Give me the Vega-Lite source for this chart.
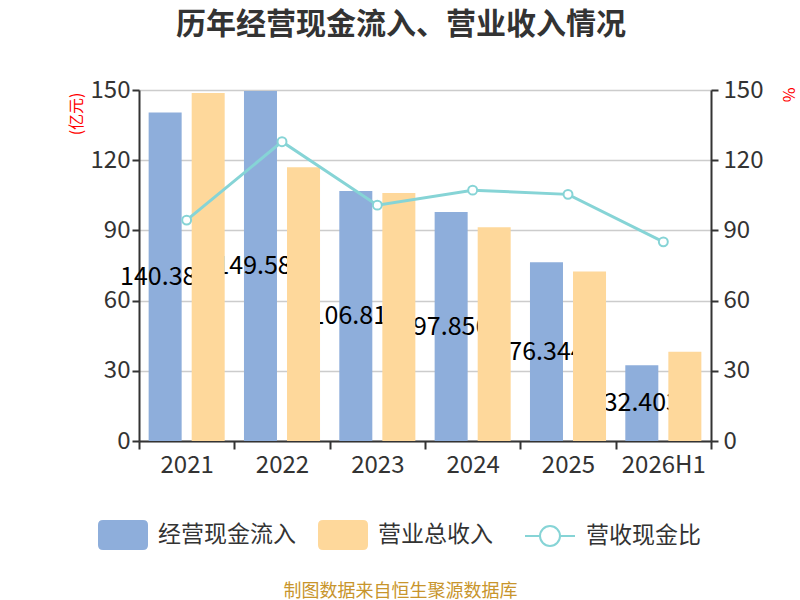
{
  "$schema": "https://vega.github.io/schema/vega-lite/v6.json",
  "description": "历年经营现金流入、营业收入情况",
  "width": 572,
  "height": 351,
  "autosize": {"type": "none"},
  "padding": {"left": 139, "top": 90, "right": 89, "bottom": 159},
  "background": "white",
  "title": {
    "text": "历年经营现金流入、营业收入情况",
    "fontSize": 30,
    "fontWeight": "bold",
    "color": "#333333",
    "font": "Noto Sans CJK SC",
    "anchor": "middle",
    "dx": -24,
    "offset": 38
  },
  "config": {
    "font": "Noto Sans CJK SC",
    "view": {"stroke": null},
    "axis": {
      "labelFont": "Noto Sans CJK SC",
      "labelFontSize": 24,
      "labelColor": "#333333",
      "domainColor": "#333333",
      "domainWidth": 2,
      "tickColor": "#333333",
      "tickWidth": 2,
      "tickSize": 7
    }
  },
  "data": {
    "values": [
      {"年份": "2021", "指标": "经营现金流入", "数值": 140.384},
      {"年份": "2022", "指标": "经营现金流入", "数值": 149.583},
      {"年份": "2023", "指标": "经营现金流入", "数值": 106.812},
      {"年份": "2024", "指标": "经营现金流入", "数值": 97.856},
      {"年份": "2025", "指标": "经营现金流入", "数值": 76.344},
      {"年份": "2026H1", "指标": "经营现金流入", "数值": 32.403},
      {"年份": "2021", "指标": "营业总收入", "数值": 148.7},
      {"年份": "2022", "指标": "营业总收入", "数值": 117.0},
      {"年份": "2023", "指标": "营业总收入", "数值": 106.0},
      {"年份": "2024", "指标": "营业总收入", "数值": 91.3},
      {"年份": "2025", "指标": "营业总收入", "数值": 72.4},
      {"年份": "2026H1", "指标": "营业总收入", "数值": 38.1},
      {"年份": "2021", "指标": "营收现金比", "数值": 94.4},
      {"年份": "2022", "指标": "营收现金比", "数值": 127.9},
      {"年份": "2023", "指标": "营收现金比", "数值": 100.8},
      {"年份": "2024", "指标": "营收现金比", "数值": 107.2},
      {"年份": "2025", "指标": "营收现金比", "数值": 105.4},
      {"年份": "2026H1", "指标": "营收现金比", "数值": 85.1}
    ]
  },
  "layer": [
    {
      "layer": [
        {
          "transform": [{"filter": "datum['指标'] == '经营现金流入'"}],
          "mark": {"type": "bar"},
          "encoding": {
            "x": {
              "field": "年份",
              "type": "nominal",
              "sort": null,
              "scale": {"paddingInner": 0, "paddingOuter": 0},
              "axis": {
                "title": "制图数据来自恒生聚源数据库",
                "titleColor": "#c8952c",
                "titleFontSize": 18,
                "titleFontWeight": "normal",
                "titleX": 261,
                "titleY": 150,
                "titleAlign": "center",
                "titleBaseline": "middle",
                "labelAngle": 0,
                "labelPadding": 4,
                "tickBand": "extent",
                "tickSize": 8
              }
            },
            "xOffset": {
              "field": "指标",
              "type": "nominal",
              "scale": {"domain": ["经营现金流入", "营业总收入"], "paddingInner": 0.233, "paddingOuter": 0.224}
            },
            "y": {
              "field": "数值",
              "type": "quantitative",
              "stack": null,
              "scale": {"domain": [0, 150], "nice": false},
              "axis": {
                "orient": "left",
                "values": [0, 30, 60, 90, 120, 150],
                "grid": true,
                "gridColor": "#cccccc",
                "gridWidth": 1.5,
                "labelPadding": 2,
                "title": "(亿元)",
                "titleColor": "#ff0000",
                "titleFontSize": 16,
                "titleFontWeight": "normal",
                "titleAngle": 270,
                "titleAlign": "right",
                "titleBaseline": "middle",
                "titleX": -63,
                "titleY": 2
              }
            },
            "color": {
              "field": "指标",
              "type": "nominal",
              "scale": {"domain": ["经营现金流入", "营业总收入"], "range": ["#8eaedb", "#fed89b"]},
              "legend": {
                "title": null,
                "orient": "none",
                "direction": "horizontal",
                "legendX": -41,
                "legendY": 420,
                "padding": 0,
                "symbolType": "M-0.8,-0.6H0.8Q1,-0.6 1,-0.4V0.4Q1,0.6 0.8,0.6H-0.8Q-1,0.6 -1,0.4V-0.4Q-1,-0.6 -0.8,-0.6Z",
                "symbolSize": 2500,
                "symbolStrokeWidth": 0,
                "symbolOpacity": 1,
                "labelFontSize": 23,
                "labelColor": "#333333",
                "labelOffset": 10,
                "columnPadding": 22,
                "labelLimit": 300
              }
            }
          }
        },
        {
          "transform": [{"filter": "datum['指标'] == '经营现金流入'"}],
          "mark": {"type": "text", "fontSize": 25, "color": "#000000", "baseline": "middle", "align": "center"},
          "encoding": {
            "x": {"field": "年份", "type": "nominal", "sort": null},
            "xOffset": {"field": "指标", "type": "nominal"},
            "y": {"field": "数值", "type": "quantitative", "stack": "zero", "bandPosition": 0.5},
            "text": {"field": "数值", "type": "quantitative", "format": ".3f"}
          }
        },
        {
          "transform": [{"filter": "datum['指标'] == '营业总收入'"}],
          "mark": {"type": "bar"},
          "encoding": {
            "x": {"field": "年份", "type": "nominal", "sort": null},
            "xOffset": {"field": "指标", "type": "nominal"},
            "y": {"field": "数值", "type": "quantitative", "stack": null},
            "color": {"field": "指标", "type": "nominal"}
          }
        }
      ]
    },
    {
      "transform": [{"filter": "datum['指标'] == '营收现金比'"}],
      "mark": {
        "type": "line",
        "strokeWidth": 3,
        "point": {"filled": false, "fill": "#ffffff", "stroke": "#86d4d6", "strokeWidth": 2, "size": 80, "opacity": 1}
      },
      "encoding": {
        "x": {"field": "年份", "type": "nominal", "sort": null},
        "y": {
          "field": "数值",
          "type": "quantitative",
          "scale": {"domain": [0, 150], "nice": false},
          "axis": {
            "orient": "right",
            "values": [0, 30, 60, 90, 120, 150],
            "grid": false,
            "labelPadding": 5,
            "title": "%",
            "titleColor": "#ff0000",
            "titleFontSize": 16,
            "titleFontWeight": "normal",
            "titleAngle": 90,
            "titleAlign": "left",
            "titleBaseline": "middle",
            "titleX": 76,
            "titleY": -3
          }
        },
        "stroke": {
          "field": "指标",
          "type": "nominal",
          "scale": {"domain": ["营收现金比"], "range": ["#86d4d6"]},
          "legend": {
            "title": null,
            "orient": "none",
            "legendX": 385,
            "legendY": 420,
            "padding": 0,
            "symbolType": "M-1,0H-0.4M0.4,0H1M0.4,0A0.4,0.4,0,1,1,-0.4,0A0.4,0.4,0,1,1,0.4,0Z",
            "symbolSize": 2500,
            "symbolStrokeWidth": 2,
            "symbolFillColor": "#ffffff",
            "labelFontSize": 23,
            "labelColor": "#333333",
            "labelOffset": 10
          }
        }
      }
    }
  ],
  "resolve": {"scale": {"y": "independent"}}
}
